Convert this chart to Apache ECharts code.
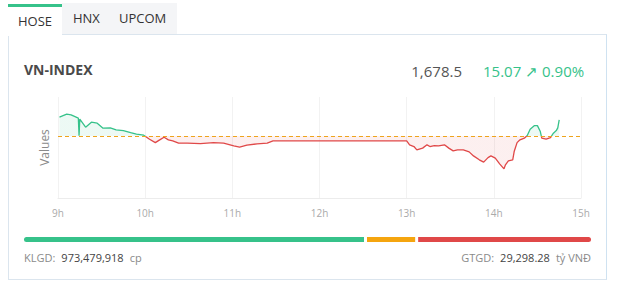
<!DOCTYPE html>
<html>
<head>
<meta charset="utf-8">
<script src="https://cdn.jsdelivr.net/npm/echarts@6/dist/echarts.min.js"></script>
<style>
  html, body { margin: 0; padding: 0; background: #fff; }
  body { width: 618px; height: 298px; position: relative; overflow: hidden; font-family: "Open Sans", "Noto Sans", sans-serif; }
  .abs { position: absolute; }
  .tabbg { left: 62px; top: 3px; width: 115px; height: 31px; background: #f4f5f7; }
  .card { left: 8px; top: 34px; width: 599px; height: 246px; border: 1px solid #dbe5ee; border-right-color: #cfe2f1; box-sizing: border-box; }
  .tabact { left: 8px; top: 4px; width: 54px; height: 32px; background: #fff; border-top: 3px solid #36c28a; box-sizing: border-box; }
  .tab { font-size: 13px; color: #333; line-height: 16px; white-space: nowrap; }
  .title { left: 24px; top: 61px; font-size: 14px; font-weight: 700; color: #4a4a4a; line-height: 18px; }
  .price { right: 156px; top: 61px; font-size: 15px; color: #555; line-height: 20px; }
  .chg { left: 483px; top: 61px; font-size: 15px; color: #36c28a; line-height: 20px; white-space: nowrap; }
  .foot { top: 250px; font-size: 11px; line-height: 16px; color: #8a8a8a; white-space: nowrap; }
  .foot b { font-weight: 400; color: #444; margin: 0 6px 0 6px; }
  #chart { position: absolute; left: 0; top: 0; width: 618px; height: 298px; }
</style>
</head>
<body>
<div class="abs tabbg"></div>
<div class="abs card"></div>
<div class="abs tabact"></div>
<div class="abs tab" style="left:18px;top:13px;">HOSE</div>
<div class="abs tab" style="left:73px;top:10px;">HNX</div>
<div class="abs tab" style="left:119px;top:10px;">UPCOM</div>
<div class="abs title">VN-INDEX</div>
<div class="abs price" id="price"></div>
<div class="abs chg" id="chg"></div>
<div class="abs foot" style="left:24px;">KLGD:<b id="klgd"></b>cp</div>
<div class="abs foot" style="right:27px;">GTGD:<b id="gtgd"></b>tỷ VNĐ</div>
<div id="chart"></div>
<script>
// ---- data ----
const indexName = "VN-INDEX";
const lastPrice = 1678.5;
const change = 15.07;
const changePct = 0.90;
const prevClose = 1663.43;
const volume = "973,479,918";
const turnover = "29,298.28";

const times = [
  "09:01","09:06","09:09","09:14","09:14:30","09:15","09:19","09:23","09:27","09:31",
  "09:36","09:40","09:45","09:50","09:54","09:59","10:03","10:07","10:10","10:13",
  "10:16","10:19","10:23","10:29","10:38","10:47","10:54","11:01","11:05","11:10",
  "11:17","11:24","11:28","11:30","13:00","13:02","13:05","13:07","13:11","13:14",
  "13:16","13:19","13:22","13:26","13:29","13:32","13:35","13:39","13:43","13:46",
  "13:50","13:53","13:56","13:58","14:01","14:04","14:07","14:08","14:10","14:13",
  "14:14","14:16","14:18","14:21","14:23","14:25","14:28","14:30","14:32","14:33",
  "14:36","14:39","14:41","14:43","14:44","14:45"
];
const values = [
  1681.0,1683.8,1683.2,1680.1,1663.5,1679.2,1671.6,1676.3,1675.4,1670.7,
  1671.0,1669.1,1668.4,1666.5,1665.0,1664.1,1660.3,1657.1,1659.7,1662.2,
  1659.7,1658.7,1656.6,1656.6,1656.2,1657.1,1656.6,1654.0,1652.8,1654.7,
  1655.9,1656.6,1658.7,1658.7,1658.7,1655.0,1653.4,1650.3,1651.9,1655.0,
  1653.4,1654.3,1654.0,1655.0,1651.9,1649.3,1650.3,1650.3,1648.4,1644.6,
  1640.9,1638.7,1643.0,1644.6,1642.5,1637.1,1632.4,1636.2,1639.9,1640.9,
  1648.7,1657.1,1659.7,1661.3,1663.7,1669.7,1673.1,1673.1,1667.5,1661.3,
  1660.3,1661.8,1666.0,1668.4,1671.0,1678.5
];
const xTickLabels = ["9h","10h","11h","12h","13h","14h","15h"];
const breadthNames = ["Tăng","Đứng giá","Giảm"];
const breadthValues = [240, 34, 122];

// ---- texts ----
document.getElementById('price').textContent = lastPrice.toLocaleString('en-US', {minimumFractionDigits: 1});
document.getElementById('chg').textContent = change.toFixed(2) + " \u2197 " + changePct.toFixed(2) + "%";
document.getElementById('klgd').textContent = volume;
document.getElementById('gtgd').textContent = turnover;

// ---- chart ----
const toMin = s => { const p = s.split(':').map(Number); return (p[0] - 9) * 60 + p[1] + (p[2] || 0) / 60; };
const lineData = times.map((t, i) => [toMin(t), values[i]]);

const GREEN = '#36c28a', RED = '#e04848', ORANGE = '#f5a50f';
const GREEN_A = 'rgba(54,194,138,0.13)', RED_A = 'rgba(224,72,72,0.12)';
const barLeft = 24, barWidthPx = 567, gapPx = 3;
const bSum = breadthValues.reduce((a, b) => a + b, 0);
const gapUnits = gapPx * bSum / (barWidthPx - 2 * gapPx);

const chart = echarts.init(document.getElementById('chart'), null, { renderer: 'svg' });
chart.setOption({
  animation: false,
  grid: [
    { left: 58, right: 37, top: 97, bottom: 100 },
    { left: barLeft, width: barWidthPx, top: 237, height: 5 }
  ],
  xAxis: [
    {
      type: 'value', min: 0, max: 360, interval: 60, gridIndex: 0,
      axisLine: { show: true, lineStyle: { color: '#ececec' } },
      axisTick: { show: false },
      splitLine: { show: true, lineStyle: { color: '#f2f2f2' } },
      axisLabel: { formatter: v => xTickLabels[Math.round(v / 60)], color: '#aaa', fontSize: 10, margin: 10, fontFamily: 'Open Sans' }
    },
    { type: 'value', gridIndex: 1, min: 0, max: bSum + 2 * gapUnits, show: false }
  ],
  yAxis: [
    {
      type: 'value', min: 1605, max: 1700, gridIndex: 0,
      name: 'Values', nameLocation: 'middle', nameGap: 8,
      nameTextStyle: { color: '#8a8a8a', fontSize: 12, fontFamily: 'Open Sans' },
      axisLabel: { show: false }, axisTick: { show: false },
      axisLine: { show: false }, splitLine: { show: false }
    },
    { type: 'category', gridIndex: 1, data: ['b'], show: false }
  ],
  series: [
    {
      type: 'line', name: indexName, xAxisIndex: 0, yAxisIndex: 0,
      data: lineData, showSymbol: false, symbol: 'none',
      lineStyle: { width: 1.3, color: GREEN },
      areaStyle: { origin: prevClose, color: GREEN_A },
      markLine: {
        silent: true, symbol: 'none', label: { show: false },
        lineStyle: { type: [4, 3], color: '#eea41c', width: 1 },
        data: [ { yAxis: prevClose } ]
      }
    },
    { type: 'bar', name: breadthNames[0], xAxisIndex: 1, yAxisIndex: 1, stack: 'b', barWidth: 5,
      data: [breadthValues[0]], itemStyle: { color: GREEN, borderRadius: [2.5, 0, 0, 2.5] } },
    { type: 'bar', xAxisIndex: 1, yAxisIndex: 1, stack: 'b', barWidth: 5, silent: true,
      data: [gapUnits], itemStyle: { color: 'rgba(0,0,0,0)' } },
    { type: 'bar', name: breadthNames[1], xAxisIndex: 1, yAxisIndex: 1, stack: 'b', barWidth: 5,
      data: [breadthValues[1]], itemStyle: { color: ORANGE } },
    { type: 'bar', xAxisIndex: 1, yAxisIndex: 1, stack: 'b', barWidth: 5, silent: true,
      data: [gapUnits], itemStyle: { color: 'rgba(0,0,0,0)' } },
    { type: 'bar', name: breadthNames[2], xAxisIndex: 1, yAxisIndex: 1, stack: 'b', barWidth: 5,
      data: [breadthValues[2]], itemStyle: { color: RED, borderRadius: [0, 2.5, 2.5, 0] } }
  ]
});

// colour above / below the reference price, split exactly at its pixel row
const yRef = chart.convertToPixel({ yAxisIndex: 0 }, prevClose);
const split = (up, down) => new echarts.graphic.LinearGradient(0, yRef - 0.5, 0, yRef + 0.5, [
  { offset: 0, color: up }, { offset: 0.5, color: up },
  { offset: 0.5, color: down }, { offset: 1, color: down }
], true);
chart.setOption({
  series: [{ lineStyle: { color: split(GREEN, RED) }, areaStyle: { color: split(GREEN_A, RED_A) } }]
});
</script>
</body>
</html>
